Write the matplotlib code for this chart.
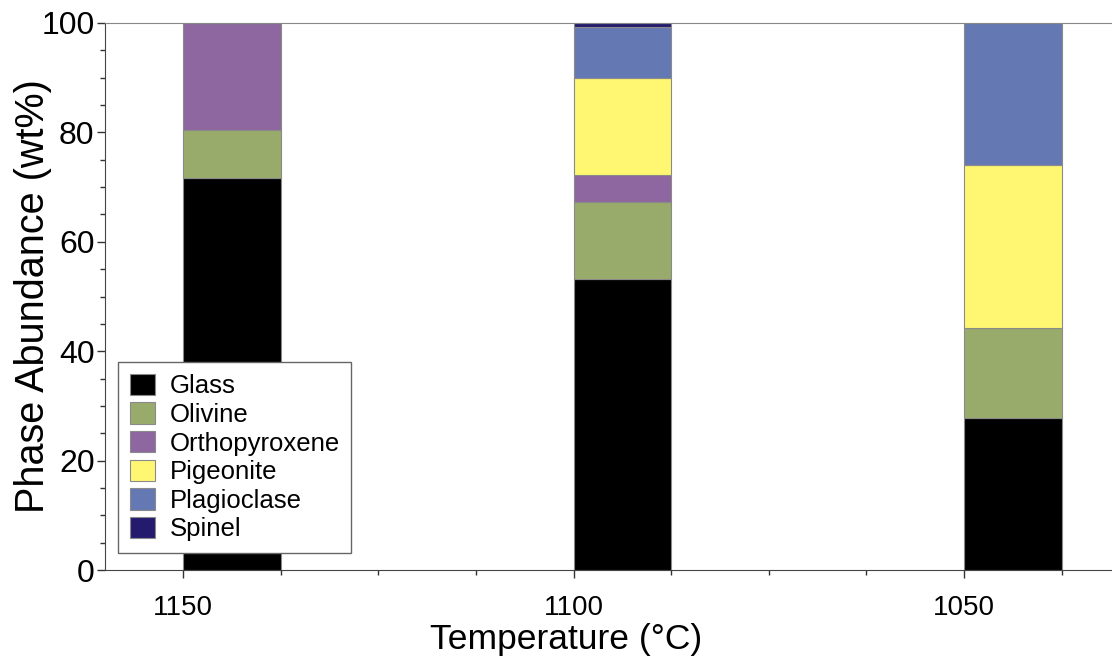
import matplotlib
matplotlib.use("Agg")
import matplotlib.pyplot as plt
import numpy as np
from matplotlib.ticker import MultipleLocator

plt.rcParams['font.family'] = ['Liberation Sans', 'DejaVu Sans']

temperatures = [1150, 1100, 1050]
phases = ["Glass", "Olivine", "Orthopyroxene", "Pigeonite", "Plagioclase", "Spinel"]
glass = [71.7, 53.2, 27.8]
olivine = [8.7, 14.1, 16.4]
orthopyroxene = [19.6, 4.9, 0.0]
pigeonite = [0.0, 17.7, 29.8]
plagioclase = [0.0, 9.4, 26.0]
spinel = [0.0, 0.7, 0.0]
colors = ["#000000", "#98ab6a", "#8e66a0", "#fff772", "#6479b3", "#241b6e"]

W, H = 1112, 670
fig = plt.figure(figsize=(W / 100, H / 100), dpi=100)
# temperature axis runs 1160 -> 1030 at ~7.81 px per degree
ax_left, ax_bottom, ax_w, ax_h = 105, 100, 130 * 7.81, 547
ax = fig.add_axes([ax_left / W, ax_bottom / H, ax_w / W, ax_h / H])

series = [glass, olivine, orthopyroxene, pigeonite, plagioclase, spinel]
bottom = np.zeros(len(temperatures))
for name, vals, col in zip(phases, series, colors):
    vals = np.array(vals)
    ax.bar(temperatures, vals, width=-12.5, align='edge', bottom=bottom,
           color=col, edgecolor='#8a8a8a', linewidth=0.8, label=name)
    bottom += vals

ax.set_xlim(1160, 1030)
ax.set_ylim(0, 100)
ax.xaxis.set_major_locator(MultipleLocator(50))
ax.xaxis.set_minor_locator(MultipleLocator(12.5))
ax.yaxis.set_major_locator(MultipleLocator(20))
ax.yaxis.set_minor_locator(MultipleLocator(5))
ax.tick_params(axis='both', which='major', direction='out', length=6, width=1,
               color='#333333')
ax.tick_params(axis='x', which='major', labelsize=20, pad=12)
ax.tick_params(axis='y', which='major', labelsize=23, pad=1.5)
ax.tick_params(axis='both', which='minor', direction='out', length=3.5, width=1,
               color='#333333')

ax.spines['right'].set_visible(False)
ax.spines['top'].set_color('#888888')
ax.spines['left'].set_color('#444444')
ax.spines['bottom'].set_color('#444444')

ax.set_xlabel("Temperature (°C)", fontsize=25.5)
ax.xaxis.set_label_coords((566 - ax_left) / ax_w, -0.097)
ax.set_ylabel("Phase Abundance (wt%)", fontsize=28.5)
ax.yaxis.set_label_coords(-0.052, 0.5)

leg = ax.legend(loc='lower left',
                bbox_to_anchor=((118 - ax_left) / ax_w, 17 / ax_h),
                borderaxespad=0, fontsize=18.5, fancybox=False, framealpha=1,
                edgecolor='#666666', labelspacing=0.16, handlelength=1.0,
                handleheight=0.9, handletextpad=0.55, borderpad=0.45)
leg.get_frame().set_linewidth(1.0)

fig.savefig("out.png", dpi=100)
